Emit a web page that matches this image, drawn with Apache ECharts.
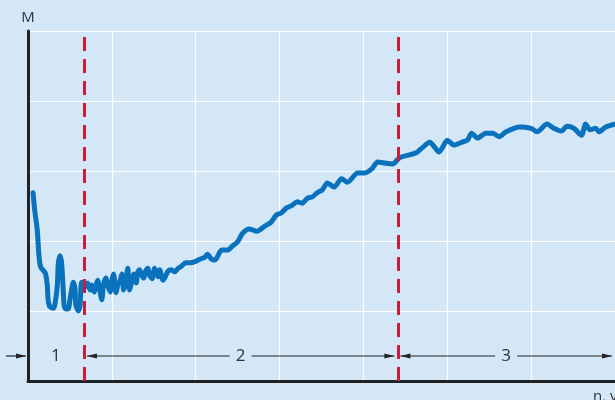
<!DOCTYPE html>
<html>
<head>
<meta charset="utf-8">
<script src="https://cdn.jsdelivr.net/npm/echarts@6/dist/echarts.min.js"></script>
<style>
html,body{margin:0;padding:0;background:#d3e7f6;}
#chart{width:615px;height:400px;}
</style>
</head>
<body>
<div id="chart"></div>
<script>
// x positions (speed axis, nominal units) and torque values M (nominal units)
const xs = [0.06,0.08,0.11,0.13,0.15,0.19,0.21,0.23,0.24,0.26,0.30,0.32,0.35,0.36,0.38,
  0.40,0.42,0.43,0.45,0.48,0.50,0.52,0.54,0.56,0.57,0.60,0.62,0.63,0.64,0.67,
  0.69,0.71,0.74,0.76,0.79,0.81,0.83,0.86,0.88,0.90,0.93,0.95,0.98,1.00,1.02,
  1.05,1.07,1.10,1.12,1.14,1.17,1.19,1.21,1.24,1.26,1.29,1.31,1.33,1.36,1.38,
  1.40,1.43,1.45,1.48,1.51,1.55,1.57,1.61,1.63,1.67,1.71,1.75,1.79,1.83,1.88,
  1.93,2.00,2.05,2.11,2.14,2.19,2.23,2.31,2.38,2.44,2.50,2.56,2.64,2.73,2.82,
  2.90,2.96,3.02,3.08,3.15,3.21,3.27,3.33,3.39,3.45,3.51,3.57,3.65,3.74,3.81,
  3.93,4.01,4.10,4.17,4.27,4.35,4.43,4.55,4.63,4.70,4.79,4.85,4.90,4.94,5.00,
  5.08,5.17,5.24,5.29,5.36,5.46,5.54,5.62,5.70,5.86,6.00,6.07,6.19,6.27,6.36,
  6.43,6.51,6.60,6.65,6.70,6.77,6.81,6.89,7.00];
const mValues = [2.69,2.44,2.16,1.80,1.63,1.57,1.53,1.37,1.16,1.06,1.04,1.09,1.37,1.66,1.79,
  1.70,1.30,1.09,1.03,1.03,1.16,1.30,1.41,1.33,1.09,1.00,1.07,1.30,1.41,1.33,
  1.37,1.40,1.30,1.37,1.27,1.37,1.44,1.27,1.16,1.37,1.47,1.37,1.27,1.44,1.53,
  1.26,1.37,1.44,1.53,1.30,1.47,1.61,1.30,1.44,1.53,1.40,1.56,1.59,1.50,1.47,
  1.56,1.61,1.51,1.46,1.61,1.49,1.59,1.44,1.47,1.57,1.59,1.56,1.61,1.64,1.69,
  1.69,1.71,1.74,1.77,1.81,1.74,1.73,1.87,1.87,1.93,1.99,2.11,2.17,2.14,2.21,
  2.27,2.37,2.40,2.47,2.51,2.56,2.54,2.61,2.63,2.69,2.73,2.83,2.77,2.89,2.84,
  2.97,2.97,3.03,3.13,3.11,3.10,3.19,3.23,3.26,3.33,3.41,3.34,3.27,3.33,3.44,
  3.37,3.41,3.44,3.54,3.47,3.54,3.54,3.49,3.56,3.63,3.61,3.56,3.67,3.61,3.57,
  3.64,3.61,3.51,3.67,3.59,3.61,3.56,3.63,3.67];
// region boundaries (x units) and region labels
const regionBounds = [0, 0.667, 4.405, 7];
const regionLabels = ['1', '2', '3'];
const annotationLevel = 0.357;   // height of the range arrows (M units)
const axisNameY = 'M';
const axisNameX = 'n, v';

const chart = echarts.init(document.getElementById('chart'), null, {renderer: 'canvas'});
const data = xs.map((x, i) => [x, mValues[i]]);

chart.setOption({
  backgroundColor: '#d3e7f6',
  animation: false,
  grid: {left: 28, top: 31, width: 588, height: 350},
  xAxis: {
    type: 'value', min: 0, max: 7, interval: 1,
    axisLine: {show: true, onZero: false, lineStyle: {color: '#222', width: 3}},
    axisTick: {show: false}, axisLabel: {show: false},
    splitLine: {show: true, lineStyle: {color: '#ffffff', width: 1.2}}
  },
  yAxis: {
    type: 'value', min: 0, max: 5, interval: 1,
    axisLine: {show: true, onZero: false, lineStyle: {color: '#222', width: 3}},
    axisTick: {show: false}, axisLabel: {show: false},
    splitLine: {show: true, lineStyle: {color: '#ffffff', width: 1.2}}
  },
  series: [{
    type: 'line',
    data: data,
    showSymbol: false,
    smooth: 0.25,
    clip: false,
    lineStyle: {color: '#0a72bc', width: 5, cap: 'round', join: 'round'},
    markLine: {
      silent: true,
      symbol: 'none',
      label: {show: false},
      lineStyle: {color: '#c81e3c', width: 3, type: [14, 8]},
      data: [{xAxis: regionBounds[1]}, {xAxis: regionBounds[2]}]
    },
    z: 3
  }]
});

// annotations: range arrows with labels, axis names
const toPx = (x, y) => chart.convertToPixel({gridIndex: 0}, [x, y]);
const elems = [];
const lineColor = '#222';
function hline(x1, x2, y) {
  elems.push({type: 'line', shape: {x1: x1, y1: y, x2: x2, y2: y},
    style: {stroke: lineColor, lineWidth: 1.2}, silent: true, z: 10});
}
function head(tip, y, dir) {
  elems.push({type: 'polygon', shape: {points: [[tip, y], [tip - dir * 10, y - 2.6], [tip - dir * 10, y + 2.6]]},
    style: {fill: lineColor}, silent: true, z: 10});
}
function label(text, x, y) {
  elems.push({type: 'text', x: x, y: y, style: {text: text, fill: '#333',
    font: '17px "Open Sans", "Noto Sans", sans-serif', textAlign: 'center', textVerticalAlign: 'middle'},
    silent: true, z: 10});
}
const yA = toPx(0, annotationLevel)[1];
// region 1: arrow from outside pointing to the axis
const x0 = toPx(regionBounds[0], 0)[0];
hline(x0 - 22, x0 - 2, yA); head(x0 - 2, yA, 1);
label(regionLabels[0], toPx((regionBounds[0] + regionBounds[1]) / 2, 0)[0], yA);
// regions 2 and 3
for (let r = 1; r < 3; r++) {
  const a = toPx(regionBounds[r], 0)[0] + 3;
  const b = toPx(regionBounds[r + 1], 0)[0] - 3;
  const m = toPx((regionBounds[r] + regionBounds[r + 1]) / 2, 0)[0];
  hline(a, m - 11, yA); hline(m + 11, b, yA);
  head(a, yA, -1); head(b, yA, 1);
  label(regionLabels[r], m, yA);
}
const topPt = toPx(0, 5);
elems.push({type: 'text', x: topPt[0], y: topPt[1] - 13, style: {text: axisNameY, fill: '#333',
  font: '15px "Open Sans", "Noto Sans", sans-serif', textAlign: 'center', textVerticalAlign: 'middle'}, z: 10});
elems.push({type: 'text', x: 593, y: 389, style: {text: axisNameX, fill: '#333',
  font: '15px "Open Sans", "Noto Sans", sans-serif', textAlign: 'left', textVerticalAlign: 'top'}, z: 10});
chart.setOption({graphic: {elements: elems}});
</script>
</body>
</html>
